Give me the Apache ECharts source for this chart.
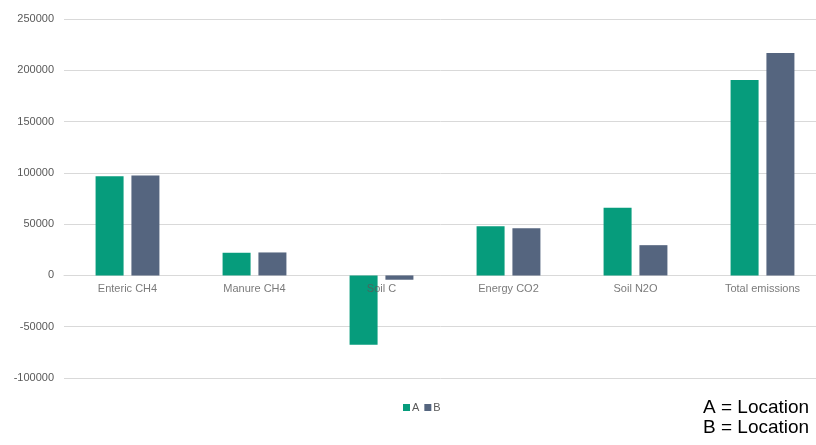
<!DOCTYPE html>
<html>
<head>
<meta charset="utf-8">
<script src="https://cdn.jsdelivr.net/npm/echarts@6/dist/echarts.min.js"></script>
<style>
  html, body { margin: 0; padding: 0; background: #ffffff; }
  #chart { width: 816px; height: 445px; }
</style>
</head>
<body>
<div id="chart"></div>
<script>
// Emission sources (categories) and values per location
const categories = ['Enteric CH4', 'Manure CH4', 'Soil C', 'Energy CO2', 'Soil N2O', 'Total emissions'];
const seriesNames = ['A', 'B'];
const valuesA = [96700, 22100, -67500, 48000, 65900, 190500];
const valuesB = [97400, 22400, -4200, 46100, 29500, 216800];
const noteLines = ['A = Location', 'B = Location'];

const FONT = '"Liberation Sans", Arial, sans-serif';
const chart = echarts.init(document.getElementById('chart'), null, { renderer: 'canvas' });

// Category names sit on the zero line, drawn above the bars
const zeroLabels = categories.map((c) => [c, 0]);

chart.setOption({
  animation: false,
  backgroundColor: '#ffffff',
  grid: {
    left: 64, width: 762, top: 19, height: 359,
    containLabel: false,
    outerBoundsMode: 'none'
  },
  legend: {
    data: seriesNames,
    left: 398,
    top: 397,
    itemWidth: 7,
    itemHeight: 7,
    itemGap: 5,
    icon: 'rect',
    textStyle: { fontFamily: FONT, fontSize: 11, color: '#595959', padding: [0, 0, 0, -3] }
  },
  xAxis: {
    type: 'category',
    data: categories,
    axisLine: { onZero: true, lineStyle: { color: '#d9d9d9', width: 1 } },
    axisTick: { show: false },
    axisLabel: { show: false },
    splitLine: { show: false }
  },
  yAxis: {
    type: 'value',
    min: -100000,
    max: 250000,
    interval: 50000,
    axisLine: { show: false },
    axisTick: { show: false },
    axisLabel: {
      fontFamily: FONT, fontSize: 11, color: '#595959', margin: 10,
      formatter: (v) => String(v)
    },
    splitLine: { lineStyle: { color: '#d9d9d9', width: 1 } }
  },
  series: [
    {
      name: seriesNames[0],
      type: 'bar',
      data: valuesA,
      barWidth: 28,
      barGap: '28%',
      itemStyle: { color: '#069c7c' }
    },
    {
      name: seriesNames[1],
      type: 'bar',
      data: valuesB,
      barWidth: 28,
      barGap: '28%',
      itemStyle: { color: '#55657f' }
    },
    {
      name: 'categoryLabels',
      type: 'scatter',
      data: zeroLabels,
      symbolSize: 0,
      z: 10,
      silent: true,
      label: {
        show: true,
        position: 'bottom',
        distance: 8,
        formatter: (p) => p.value[0],
        fontFamily: FONT,
        fontSize: 11,
        color: '#595959'
      }
    }
  ],
  graphic: [
    {
      type: 'text',
      left: 703,
      top: 398,
      style: {
        text: noteLines.join('\n'),
        font: '19px ' + FONT,
        fill: '#000000',
        lineHeight: 20
      }
    }
  ]
});
</script>
</body>
</html>
